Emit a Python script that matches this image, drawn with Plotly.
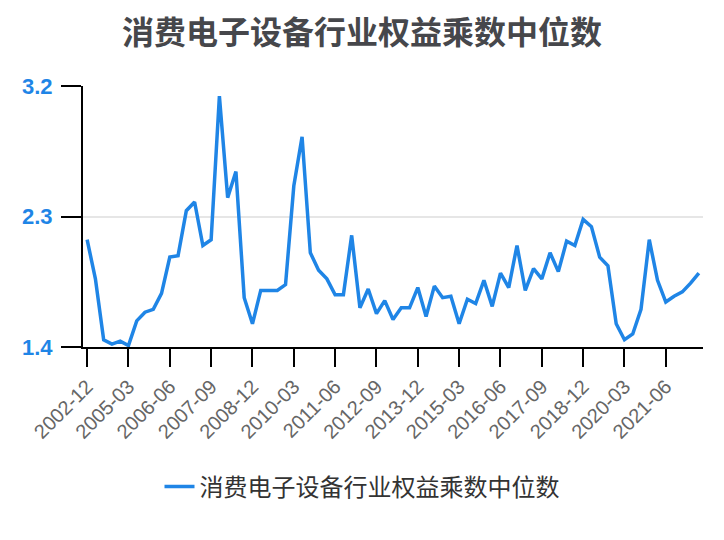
import plotly.graph_objects as go

series_name = "消费电子设备行业权益乘数中位数"

categories = [
    "2002-12", "2003-06", "2003-12", "2004-06", "2004-12",
    "2005-03", "2005-06", "2005-09", "2005-12",
    "2006-03", "2006-06", "2006-09", "2006-12",
    "2007-03", "2007-06", "2007-09", "2007-12",
    "2008-03", "2008-06", "2008-09", "2008-12",
    "2009-03", "2009-06", "2009-09", "2009-12",
    "2010-03", "2010-06", "2010-09", "2010-12",
    "2011-03", "2011-06", "2011-09", "2011-12",
    "2012-03", "2012-06", "2012-09", "2012-12",
    "2013-03", "2013-06", "2013-09", "2013-12",
    "2014-03", "2014-06", "2014-09", "2014-12",
    "2015-03", "2015-06", "2015-09", "2015-12",
    "2016-03", "2016-06", "2016-09", "2016-12",
    "2017-03", "2017-06", "2017-09", "2017-12",
    "2018-03", "2018-06", "2018-09", "2018-12",
    "2019-03", "2019-06", "2019-09", "2019-12",
    "2020-03", "2020-06", "2020-09", "2020-12",
    "2021-03", "2021-06", "2021-09", "2021-12",
    "2022-03", "2022-06",
]

values = [
    2.14, 1.87, 1.45, 1.42, 1.44,
    1.41, 1.58, 1.64, 1.66,
    1.77, 2.02, 2.03, 2.34,
    2.40, 2.10, 2.14, 3.13,
    2.43, 2.61, 1.74, 1.56,
    1.79, 1.79, 1.79, 1.83,
    2.51, 2.85, 2.05, 1.93,
    1.87, 1.76, 1.76, 2.17,
    1.67, 1.80, 1.63, 1.72,
    1.59, 1.67, 1.67, 1.81,
    1.61, 1.82, 1.74, 1.75,
    1.56, 1.73, 1.70, 1.86,
    1.68, 1.91, 1.81, 2.10,
    1.79, 1.94, 1.87, 2.05,
    1.92, 2.13, 2.10, 2.28,
    2.23, 2.02, 1.96, 1.56,
    1.45, 1.49, 1.66, 2.14,
    1.86, 1.71, 1.75, 1.78,
    1.84, 1.91,
]

x_tick_labels = [
    "2002-12", "2005-03", "2006-06", "2007-09", "2008-12",
    "2010-03", "2011-06", "2012-09", "2013-12", "2015-03",
    "2016-06", "2017-09", "2018-12", "2020-03", "2021-06",
]

y_ticks = [1.4, 2.3, 3.2]

blue = "#1f85e6"

fig = go.Figure()
fig.add_trace(go.Scatter(
    x=categories, y=values, mode="lines", name=series_name,
    line=dict(color=blue, width=3.5),
))

fig.update_layout(
    width=724, height=540,
    margin=dict(l=75, r=29, t=78, b=201, autoexpand=False),
    paper_bgcolor="white", plot_bgcolor="white",
    title=dict(
        text=series_name, x=354 / 724, xanchor="center", xref="container",
        y=1 - 25 / 540, yanchor="middle", yref="container",
        font=dict(family="Noto Sans CJK SC", size=32, color="#46474b", weight="bold"),
    ),
    showlegend=True,
    legend=dict(
        orientation="h", x=354 / 724, xanchor="center", xref="container",
        y=1 - 479 / 540, yanchor="middle", yref="container",
        font=dict(family="Noto Sans CJK SC", size=24, color="#333333"),
    ),
    xaxis=dict(
        type="category", categoryorder="array", categoryarray=categories,
        range=[-0.5, len(categories) - 0.5], automargin=False,
        tickmode="array", tickvals=x_tick_labels, ticktext=x_tick_labels,
        tickangle=-45, ticks="outside", ticklen=18, tickwidth=2, tickcolor="black",
        showline=True, linecolor="black", linewidth=2,
        showgrid=False, zeroline=False,
        tickfont=dict(family="Liberation Sans", size=20, color="#666666"),
    ),
    yaxis=dict(
        range=[1.4, 3.2], tickmode="array", tickvals=y_ticks, automargin=False,
        ticktext=[f"{v:.1f}" for v in y_ticks],
        ticks="outside", ticklen=20, tickwidth=2, tickcolor="black",
        ticklabelstandoff=4,
        showline=True, linecolor="black", linewidth=2,
        showgrid=True, gridcolor="#e6e6e6", gridwidth=2, zeroline=False,
        tickfont=dict(family="Liberation Sans", size=22, color=blue, weight="bold"),
    ),
)

fig.write_html("out.html")
